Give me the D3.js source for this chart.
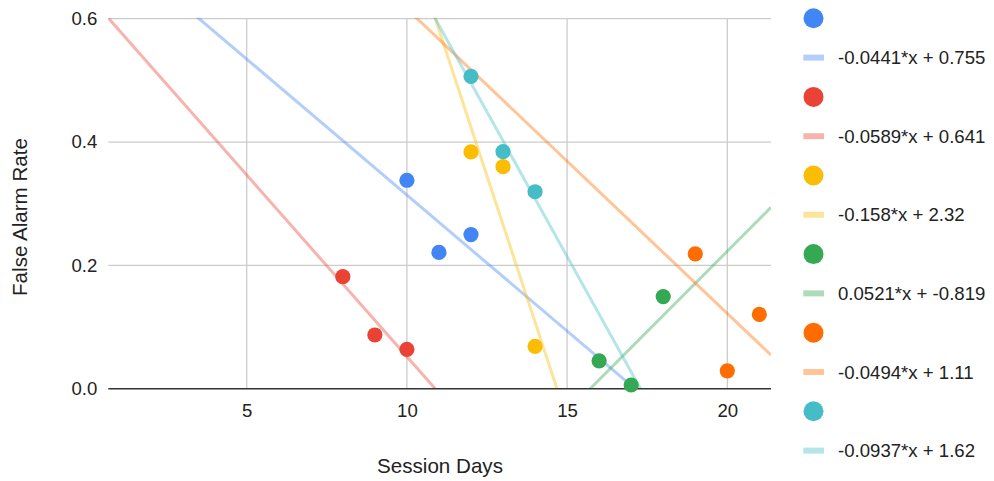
<!DOCTYPE html>
<html>
<head>
<meta charset="utf-8">
<script src="https://cdn.jsdelivr.net/npm/d3@7/dist/d3.min.js"></script>
<style>
  html, body { margin: 0; padding: 0; background: #fff; }
  text { font-family: "Liberation Sans", Arial, sans-serif; }
</style>
</head>
<body>
<svg id="chart" width="994" height="481"></svg>
<script>
// ---- data ----
const seriesNames = ["Series 1", "Series 2", "Series 3", "Series 4", "Series 5", "Series 6"];
const seriesColors = ["#4285F4", "#EA4335", "#FBBC04", "#34A853", "#FF6D01", "#46BDC6"];
const blueX = [10, 11, 12];
const blueY = [0.338, 0.221, 0.250];
const redX = [8, 9, 10];
const redY = [0.1816, 0.0871, 0.0639];
const yellowX = [12, 13, 14];
const yellowY = [0.384, 0.360, 0.0685];
const greenX = [16, 17, 18];
const greenY = [0.0452, 0.0060, 0.1494];
const orangeX = [19, 20, 21];
const orangeY = [0.2185, 0.0290, 0.1205];
const tealX = [12, 13, 14];
const tealY = [0.5065, 0.3843, 0.3194];
const trendSlopes = [-0.0441, -0.0589, -0.158, 0.0521, -0.0494, -0.0937];
const trendIntercepts = [0.755, 0.641, 2.32, -0.819, 1.11, 1.62];
const trendLabels = ["-0.0441*x + 0.755", "-0.0589*x + 0.641", "-0.158*x + 2.32",
                     "0.0521*x + -0.819", "-0.0494*x + 1.11", "-0.0937*x + 1.62"];
const xTicks = [5, 10, 15, 20];
const yTicks = [0, 0.2, 0.4, 0.6];
const xDomain = [0.68, 21.364];
const yDomain = [0, 0.6];
const xTitle = "Session Days";
const yTitle = "False Alarm Rate";

const seriesX = [blueX, redX, yellowX, greenX, orangeX, tealX];
const seriesY = [blueY, redY, yellowY, greenY, orangeY, tealY];

// ---- layout ----
const svg = d3.select("#chart");
const pLeft = 108.3, pRight = 771, pTop = 18.7, pBottom = 388.7;
const x = d3.scaleLinear().domain(xDomain).range([pLeft, pRight]);
const y = d3.scaleLinear().domain(yDomain).range([pBottom, pTop]);
const fontSize = 18.6;
const titleSize = 20.6;

svg.append("defs").append("clipPath").attr("id", "plotClip")
  .append("rect").attr("x", pLeft).attr("y", pTop - 1).attr("width", pRight - pLeft).attr("height", pBottom - pTop + 1);

// gridlines
const grid = svg.append("g");
grid.selectAll("line.v").data(xTicks).enter().append("line")
  .attr("x1", d => x(d)).attr("x2", d => x(d))
  .attr("y1", pTop).attr("y2", pBottom)
  .attr("stroke", "#cccccc").attr("stroke-width", 1.3);
grid.selectAll("line.h").data(yTicks.filter(d => d !== 0)).enter().append("line")
  .attr("x1", pLeft).attr("x2", pRight)
  .attr("y1", d => y(d)).attr("y2", d => y(d))
  .attr("stroke", "#cccccc").attr("stroke-width", 1.3);

// axis labels via d3 axes (no domain/tick lines)
const xAxis = svg.append("g").attr("transform", `translate(0,${pBottom})`)
  .call(d3.axisBottom(x).tickValues(xTicks).tickSize(0).tickPadding(15).tickFormat(d3.format("d")));
xAxis.select(".domain").remove();
xAxis.selectAll("text").attr("font-size", fontSize).attr("fill", "#222").attr("font-family", "Liberation Sans, Arial, sans-serif");

const yAxis = svg.append("g").attr("transform", `translate(${pLeft},0)`)
  .call(d3.axisLeft(y).tickValues(yTicks).tickSize(0).tickPadding(11).tickFormat(d3.format(".1f")));
yAxis.select(".domain").remove();
yAxis.selectAll("text").attr("font-size", fontSize).attr("fill", "#222").attr("font-family", "Liberation Sans, Arial, sans-serif");

// trend lines
const trendG = svg.append("g").attr("clip-path", "url(#plotClip)");
trendSlopes.forEach((m, i) => {
  const b = trendIntercepts[i];
  const pts = xDomain.map(v => [v, m * v + b]);
  trendG.append("path")
    .attr("d", d3.line().x(d => x(d[0])).y(d => y(d[1]))(pts))
    .attr("fill", "none")
    .attr("stroke", seriesColors[i])
    .attr("stroke-opacity", 0.4)
    .attr("stroke-width", 3);
});

// baseline
svg.append("line").attr("x1", pLeft).attr("x2", pRight)
  .attr("y1", y(0)).attr("y2", y(0))
  .attr("stroke", "#333333").attr("stroke-width", 1.5);

// points
const ptG = svg.append("g");
seriesX.forEach((xs, i) => {
  ptG.selectAll(null).data(xs.map((v, j) => [v, seriesY[i][j]])).enter().append("circle")
    .attr("cx", d => x(d[0])).attr("cy", d => y(d[1]))
    .attr("r", 7.6)
    .attr("fill", seriesColors[i]);
});

// axis titles
svg.append("text").attr("x", 440).attr("y", 473)
  .attr("text-anchor", "middle").attr("font-size", titleSize).attr("fill", "#222")
  .text(xTitle);
svg.append("text")
  .attr("transform", `translate(26.5,217) rotate(-90)`)
  .attr("text-anchor", "middle").attr("font-size", titleSize).attr("fill", "#222")
  .text(yTitle);

// legend
const leg = svg.append("g");
const legStep = 39.3;
seriesColors.forEach((c, i) => {
  const cy = 18.3 + i * 2 * legStep;
  leg.append("circle").attr("cx", 813.5).attr("cy", cy).attr("r", 10).attr("fill", c);
  const ly = cy + legStep;
  leg.append("rect").attr("x", 803.3).attr("y", ly - 3).attr("width", 20.7).attr("height", 6)
    .attr("fill", c).attr("fill-opacity", 0.4);
  leg.append("text").attr("x", 838).attr("y", ly + 6.5)
    .attr("font-size", fontSize).attr("fill", "#222").text(trendLabels[i]);
});
</script>
</body>
</html>
